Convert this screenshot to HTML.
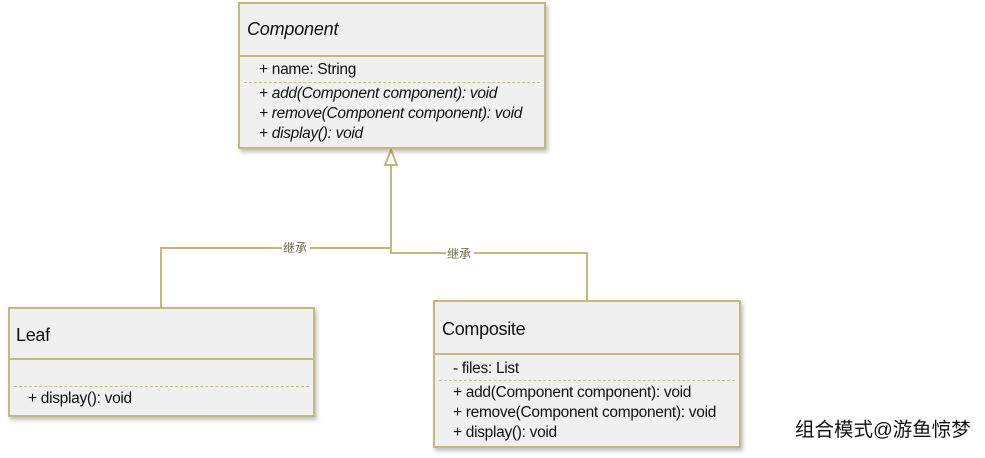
<!DOCTYPE html>
<html><head><meta charset="utf-8"><style>
body{margin:0;width:985px;height:458px;background:#fff;position:relative;overflow:hidden;font-family:"Liberation Sans","Noto Sans CJK SC",sans-serif;}
.box{position:absolute;background:#f0f0f0;border:2px solid #c2b97c;box-shadow:2px 3px 4px rgba(0,0,0,0.25);box-sizing:border-box;}
.t{position:absolute;font-size:15.5px;color:#111;white-space:nowrap;letter-spacing:-0.3px;}
.hd{position:absolute;left:0;right:0;border-top:2px solid #c2b97c;}
.dash{position:absolute;left:4px;right:4px;border-top:1px dashed #c9c08c;}
i{font-style:italic;}
</style></head><body>
<svg width="985" height="458" style="position:absolute;left:0;top:0">
<g stroke="#c2b97c" stroke-width="2" fill="none">
<polyline points="161,307 161,248 391,248"/>
<polyline points="391,165 391,253 587,253 587,300"/>
<polygon points="391,150 385,165 397,165" fill="#fff"/>
</g>
<rect x="282" y="240" width="28" height="16" fill="#fff"/>
<rect x="446" y="245" width="28" height="16" fill="#fff"/>
<text x="283" y="252" font-size="12" fill="#6b6b45" font-family="Noto Sans CJK SC,sans-serif">继承</text>
<text x="447" y="258" font-size="12" fill="#6b6b45" font-family="Noto Sans CJK SC,sans-serif">继承</text>
</svg>

<div class="box" style="left:238px;top:2px;width:308px;height:147px">
<div class="t" style="left:7px;top:15px;font-size:18px;letter-spacing:-0.2px"><i>Component</i></div>
<div class="hd" style="top:51px"></div>
<div class="t" style="left:19px;top:57px">+ name: String</div>
<div class="dash" style="top:78px"></div>
<div class="t" style="left:19px;top:81px"><i>+ add(Component component): void</i></div>
<div class="t" style="left:19px;top:101px"><i>+ remove(Component component): void</i></div>
<div class="t" style="left:19px;top:121px"><i>+ display(): void</i></div>
</div>

<div class="box" style="left:8px;top:307px;width:307px;height:110px">
<div class="t" style="left:6px;top:16px;font-size:18px">Leaf</div>
<div class="hd" style="top:49px"></div>
<div class="dash" style="top:77px"></div>
<div class="t" style="left:18px;top:81px">+ display(): void</div>
</div>

<div class="box" style="left:433px;top:300px;width:308px;height:148px">
<div class="t" style="left:7px;top:17px;font-size:18px">Composite</div>
<div class="hd" style="top:51px"></div>
<div class="t" style="left:18px;top:58px">- files: List</div>
<div class="dash" style="top:78px"></div>
<div class="t" style="left:18px;top:82px">+ add(Component component): void</div>
<div class="t" style="left:18px;top:102px">+ remove(Component component): void</div>
<div class="t" style="left:18px;top:122px">+ display(): void</div>
</div>

<div class="t" style="left:795px;top:413px;font-size:19.5px;color:#111;letter-spacing:0">组合模式@游鱼惊梦</div>
</body></html>
